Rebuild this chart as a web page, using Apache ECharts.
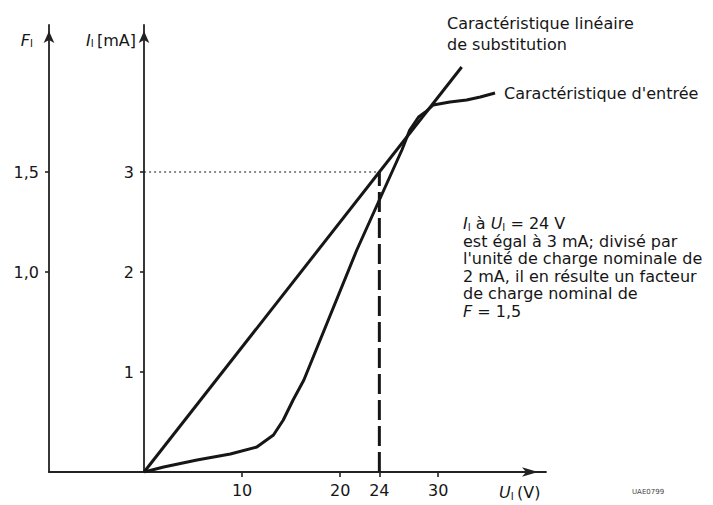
<!DOCTYPE html>
<html>
<head>
<meta charset="utf-8">
<script src="https://cdn.jsdelivr.net/npm/echarts@6/dist/echarts.min.js"></script>
<style>
  html, body { margin: 0; padding: 0; background: #fff; }
  #chart { width: 713px; height: 505px; }
</style>
</head>
<body>
<div id="chart"></div>
<script>
// U_I in volts (x), I_I in mA (inner axis), F_I = I_I / 2 mA (outer axis)
var xTicks = [10, 20, 24, 30];
var iTicks = [1, 2, 3];
var fTicks = [1.0, 1.5];

var readV = 24;     // U_I = 24 V
var readI = 3;      // I_I = 3 mA
var unitLoad = 2;   // unite de charge nominale, mA

// straight "substitution" characteristic
var substLine = [[0, 0], [32.4, 4.05]];

// measured input characteristic
var inputCurve = [
  [0, 0], [2.0, 0.05], [5.4, 0.12], [8.8, 0.18], [11.5, 0.25], [13.2, 0.37],
  [14.2, 0.52], [15.2, 0.72], [16.3, 0.92], [21.7, 2.22], [26.3, 3.22],
  [27.1, 3.42], [28.0, 3.55], [28.7, 3.60], [29.5, 3.67], [31.2, 3.70],
  [32.9, 3.72], [34.3, 3.75], [35.8, 3.79]
];

var iMax = 4.47;
var ink = '#161616';
var font = 'DejaVu Sans';
var fs = 16;

var chart = echarts.init(document.getElementById('chart'), null, { renderer: 'svg' });

var subRich = {
  i: { fontStyle: 'italic', fontSize: fs, fontFamily: font, color: ink },
  s: { fontSize: 10, fontFamily: font, color: ink, padding: [7, 0, 0, 0] },
  n: { fontSize: fs, fontFamily: font, color: ink }
};

chart.setOption({
  animation: false,
  grid: { left: 49, right: 167, top: 25, bottom: 33, outerBoundsMode: 'none' },
  xAxis: {
    type: 'value', min: -9.7, max: 41,
    splitLine: { show: false },
    axisLine: {
      onZero: false,
      lineStyle: { color: '#222', width: 1.8 },
      symbol: ['none', 'arrow'], symbolSize: [7, 16], symbolOffset: [0, -8]
    },
    axisTick: { customValues: xTicks, length: 5, lineStyle: { color: '#222', width: 1.6 } },
    axisLabel: {
      customValues: xTicks, margin: 10, fontSize: fs, fontFamily: font, color: ink
    },
    name: '{i|U}{s|I} {n|(V)}',
    nameLocation: 'end', nameGap: -47,
    nameTextStyle: { align: 'left', verticalAlign: 'top', padding: [12, 0, 0, 0], rich: subRich }
  },
  yAxis: [
    {
      type: 'value', position: 'left', offset: -95, min: 0, max: iMax,
      splitLine: { show: false },
      axisLine: {
        onZero: false,
        lineStyle: { color: '#222', width: 1.8 },
        symbol: ['none', 'arrow'], symbolSize: [8, 12], symbolOffset: [0, -6]
      },
      axisTick: { customValues: iTicks, length: 4, lineStyle: { color: '#222', width: 1.6 } },
      axisLabel: { customValues: iTicks, margin: 10, fontSize: fs, fontFamily: font, color: ink },
      name: '{i|I}{s|I} {n|[mA]}',
      nameLocation: 'end', nameGap: -15,
      nameTextStyle: { align: 'right', verticalAlign: 'middle', padding: [0, 8, 0, 0], rich: subRich }
    },
    {
      type: 'value', position: 'left', min: 0, max: iMax / unitLoad,
      splitLine: { show: false },
      axisLine: {
        onZero: false,
        lineStyle: { color: '#222', width: 1.8 },
        symbol: ['none', 'arrow'], symbolSize: [8, 12], symbolOffset: [0, -6]
      },
      axisTick: { customValues: fTicks, length: 4, lineStyle: { color: '#222', width: 1.6 } },
      axisLabel: {
        customValues: fTicks, margin: 10, fontSize: fs, fontFamily: font, color: ink,
        formatter: function (v) { return v.toFixed(1).replace('.', ','); }
      },
      name: '{i|F}{s|I}',
      nameLocation: 'end', nameGap: -15,
      nameTextStyle: { align: 'right', verticalAlign: 'middle', padding: [0, 16, 0, 0], rich: subRich }
    }
  ],
  series: [
    {
      type: 'line', yAxisIndex: 0, data: [[0, readI], [readV, readI]],
      symbol: 'none', silent: true,
      lineStyle: { color: ink, width: 1.2, type: [2, 3] }
    },
    {
      type: 'line', yAxisIndex: 0, data: [[readV, 0], [readV, readI]],
      symbol: 'none', silent: true,
      lineStyle: { color: ink, width: 3, type: [20, 6] }
    },
    {
      type: 'line', yAxisIndex: 0, data: substLine,
      symbol: 'none',
      lineStyle: { color: ink, width: 3 }
    },
    {
      type: 'line', yAxisIndex: 0, data: inputCurve,
      symbol: 'none',
      lineStyle: { color: ink, width: 3, join: 'round' },
      endLabel: {
        show: true, formatter: "Caract\u00e9ristique d'entr\u00e9e", distance: 9,
        fontSize: fs, fontFamily: font, color: ink
      }
    }
  ],
  graphic: [
    {
      type: 'text', left: 447, top: 13,
      style: {
        text: 'Caract\u00e9ristique lin\u00e9aire\nde substitution',
        fontSize: fs, fontFamily: font, fill: ink, lineHeight: 21
      }
    },
    {
      type: 'text', left: 463, top: 215,
      style: {
        text: '{i|I}{s|I}{n| \u00e0 }{i|U}{s|I}{n| = 24 V}\n' +
              '{n|est \u00e9gal \u00e0 3 mA; divis\u00e9 par}\n' +
              "{n|l'unit\u00e9 de charge nominale de}\n" +
              '{n|2 mA, il en r\u00e9sulte un facteur}\n' +
              '{n|de charge nominal de}\n' +
              '{i|F}{n| = 1,5}',
        rich: {
          i: { fontStyle: 'italic', fontSize: fs, fontFamily: font, fill: ink, lineHeight: 17.5 },
          s: { fontSize: 10, fontFamily: font, fill: ink, lineHeight: 17.5, padding: [7, 0, 0, 0] },
          n: { fontSize: fs, fontFamily: font, fill: ink, lineHeight: 17.5 }
        }
      }
    },
    {
      type: 'text', left: 632, top: 488,
      style: { text: 'UAE0799', fontSize: 7, fontFamily: font, fill: '#444' }
    }
  ]
});
</script>
</body>
</html>
